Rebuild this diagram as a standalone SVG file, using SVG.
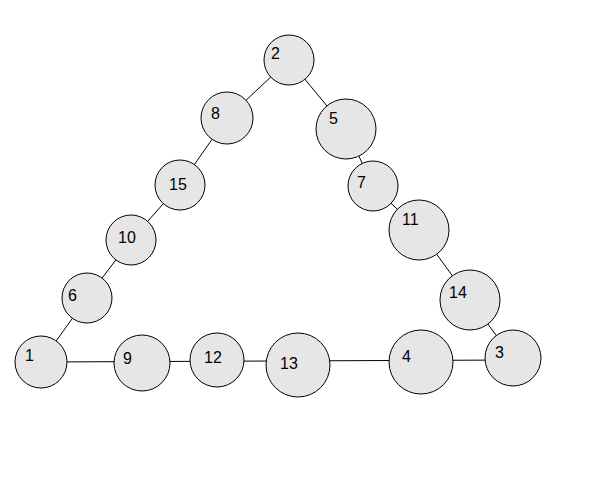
<svg xmlns="http://www.w3.org/2000/svg" width="600" height="500" viewBox="0 0 600 500">
<style>
circle{fill:#e6e6e6;stroke:#000;stroke-width:1}
text{font-family:"Liberation Sans",Arial,sans-serif;font-size:16px;fill:#000}
line{stroke:#000;stroke-width:1}
</style>
<rect width="600" height="500" fill="#fff"/>
<g id="connectors">
<line x1="289" y1="60" x2="227" y2="118"/>
<line x1="289" y1="60" x2="346" y2="129"/>
<line x1="227" y1="118" x2="180" y2="185"/>
<line x1="346" y1="129" x2="373" y2="186"/>
<line x1="180" y1="185" x2="131" y2="240"/>
<line x1="373" y1="186" x2="419" y2="230"/>
<line x1="131" y1="240" x2="87" y2="298"/>
<line x1="419" y1="230" x2="470" y2="300"/>
<line x1="87" y1="298" x2="41" y2="362"/>
<line x1="470" y1="300" x2="513" y2="358"/>
<line x1="41" y1="362" x2="513" y2="360"/>
</g>
<g id="n2"><circle cx="289" cy="60" r="25"/><text x="271" y="59">2</text></g>
<g id="n8"><circle cx="227" cy="118" r="26"/><text x="211" y="119">8</text></g>
<g id="n5"><circle cx="346" cy="129" r="30"/><text x="329" y="124">5</text></g>
<g id="n15"><circle cx="180" cy="185" r="25"/><text x="169" y="190">15</text></g>
<g id="n7"><circle cx="373" cy="186" r="25"/><text x="357" y="188">7</text></g>
<g id="n11"><circle cx="419" cy="230" r="30"/><text x="402" y="225">11</text></g>
<g id="n10"><circle cx="131" cy="240" r="25"/><text x="118" y="243">10</text></g>
<g id="n14"><circle cx="470" cy="300" r="30"/><text x="449" y="298">14</text></g>
<g id="n6"><circle cx="87" cy="298" r="25"/><text x="68" y="301">6</text></g>
<g id="n1"><circle cx="41" cy="362" r="26"/><text x="25" y="361">1</text></g>
<g id="n9"><circle cx="142" cy="363" r="28"/><text x="123" y="364">9</text></g>
<g id="n12"><circle cx="217" cy="360" r="27"/><text x="204" y="363">12</text></g>
<g id="n13"><circle cx="298" cy="365" r="32"/><text x="280" y="369">13</text></g>
<g id="n4"><circle cx="421" cy="362" r="32"/><text x="402" y="362">4</text></g>
<g id="n3"><circle cx="513" cy="358" r="28"/><text x="495" y="358">3</text></g>
</svg>
